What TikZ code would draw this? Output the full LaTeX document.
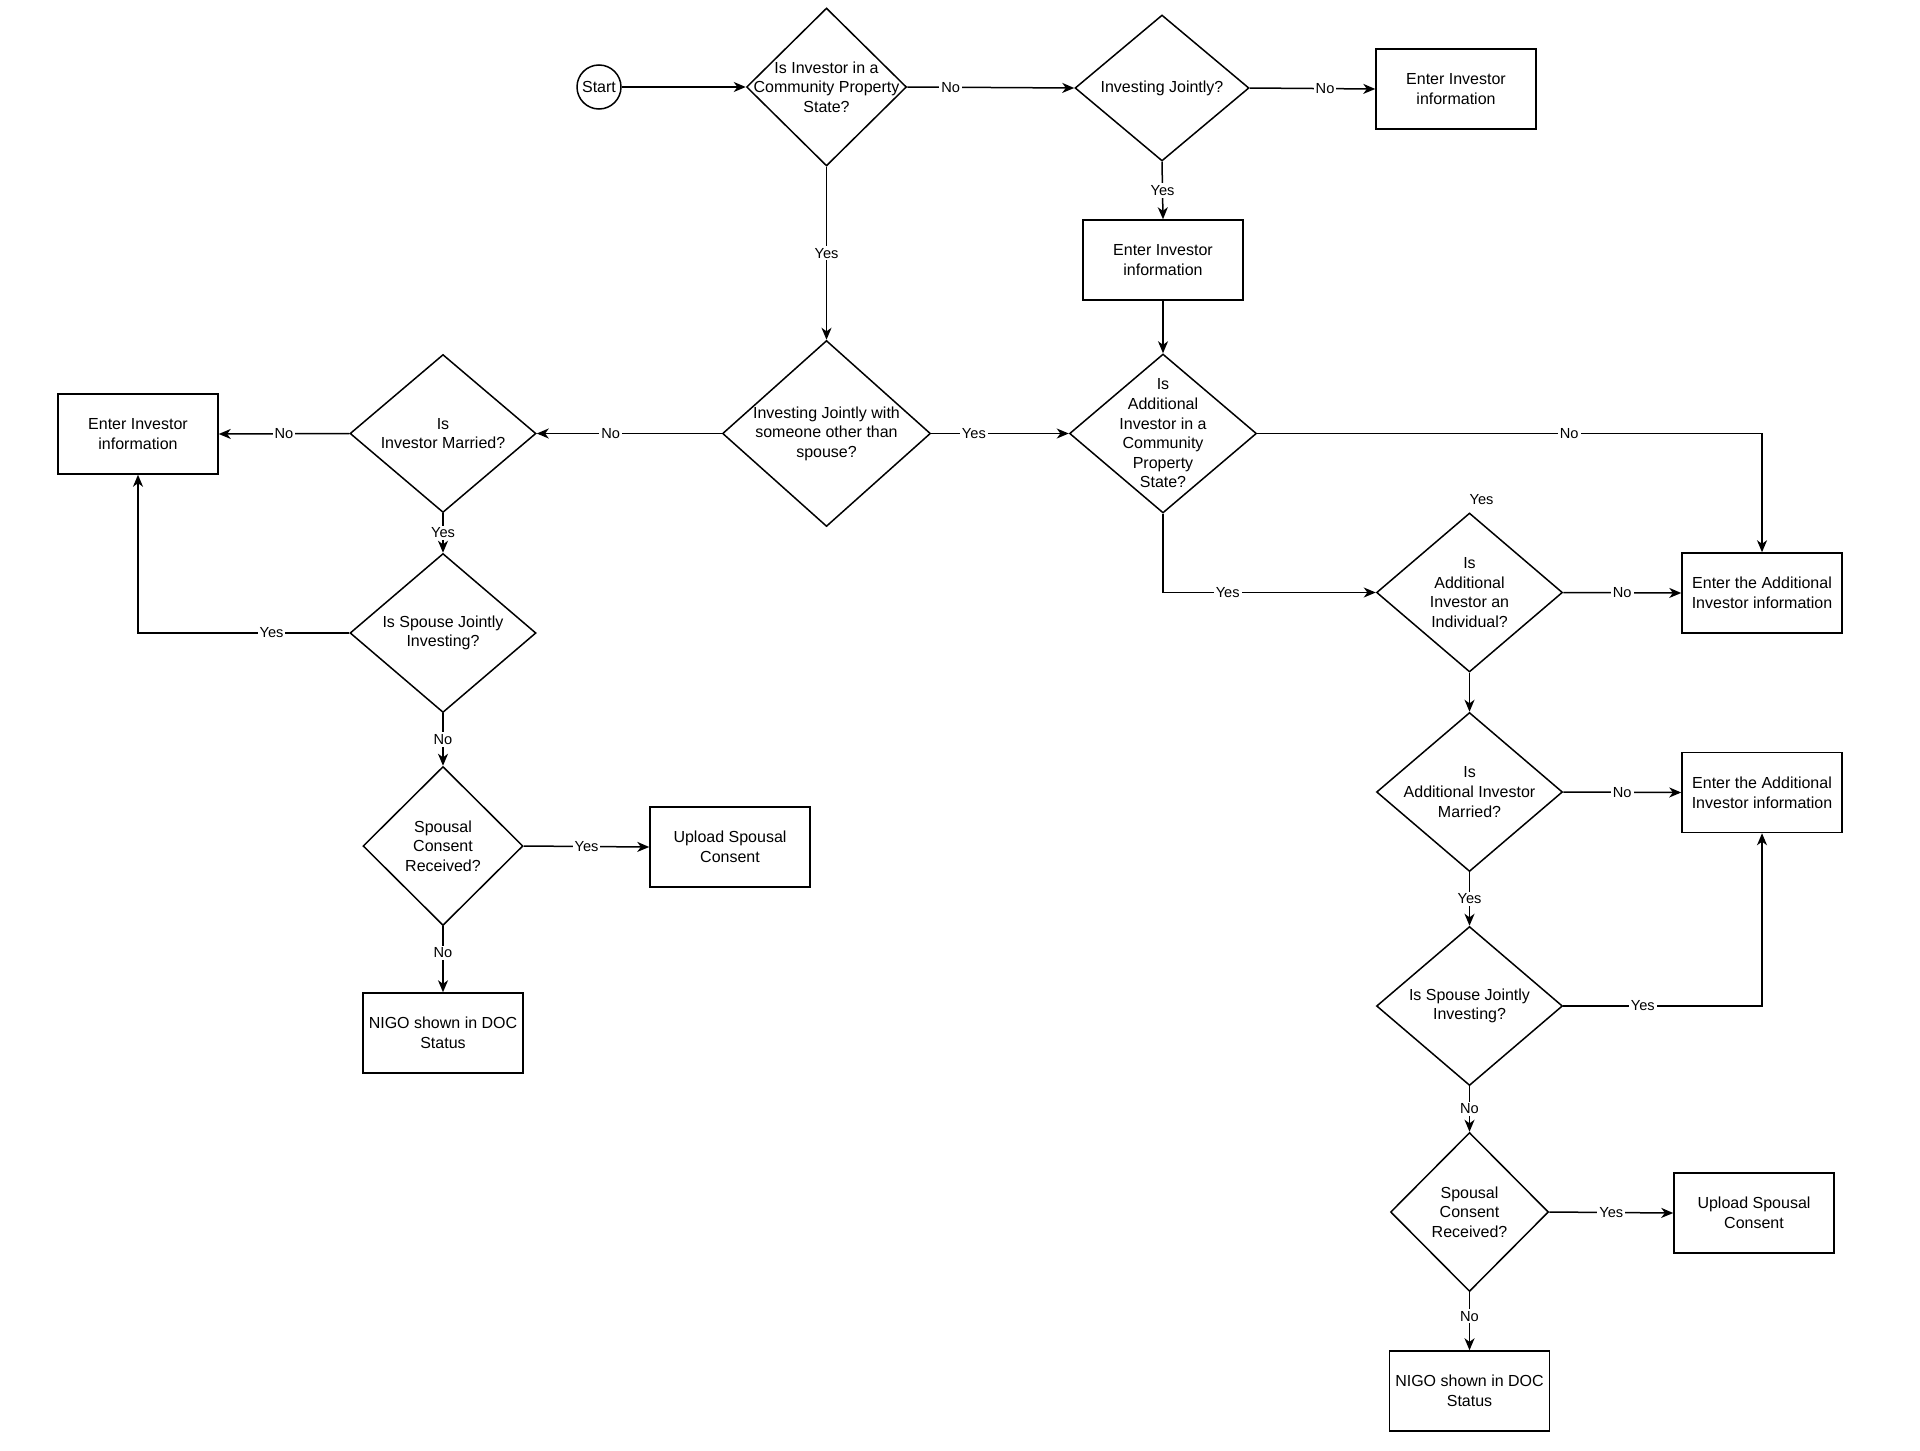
\documentclass[tikz,border=0pt]{standalone}
\usepackage{fontspec}
\setmainfont{Liberation Sans}
\usetikzlibrary{shapes.geometric,arrows.meta}

\tikzset{every picture/.style={line width=0.75pt}}
\tikzset{
  decision/.style 2 args={draw, shape=diamond, inner sep=0pt, minimum width=#1, minimum height=#2},
  process/.style={draw, rectangle, minimum width=80pt, minimum height=40pt, inner sep=0pt, align=center, font=\fontsize{8pt}{9.8pt}\selectfont},
  qtext/.style={align=center, inner sep=0pt, font=\fontsize{8pt}{9.8pt}\selectfont},
  lbl/.style={fill=white, inner sep=1pt, font=\fontsize{7.3pt}{8pt}\selectfont},
  flow/.style={-{Stealth[length=6pt,width=5pt,inset=1.8pt]}},
}

\begin{document}
\begin{tikzpicture}[x=0.5pt,y=0.5pt,yscale=-1,xscale=1]
\path (0,0) rectangle (1920,1450); %set diagram size 1920 x 1450

%Shape: Circle
\node[draw, circle, minimum size=22pt, inner sep=0pt, qtext] (start) at (599,87) {Start};

%Shape: Diamond
\node[decision={80pt}{79pt}, label={[qtext]center:Is Investor in a\\Community Property\\State?}] (q1) at (826.5,87) {};
\node[decision={87pt}{73pt}, label={[qtext]center:Investing Jointly?}] (q2) at (1162,88) {};
\node[decision={104pt}{93pt}, label={[qtext]center:Investing Jointly with\\someone other than\\spouse?}] (q3) at (826.5,433.5) {};
\node[decision={93.5pt}{79.5pt}, label={[qtext]center:Is\\Additional\\Investor in a\\Community\\Property\\State?}] (q4) at (1163,433.5) {};
\node[decision={93pt}{79pt}, label={[qtext]center:Is\\Investor Married?}] (q5) at (443,433.5) {};
\node[decision={93pt}{79.5pt}, label={[qtext]center:Is Spouse Jointly\\Investing?}] (q6) at (443,633) {};
\node[decision={80pt}{79.5pt}, label={[qtext]center:Spousal\\Consent\\Received?}] (q7) at (443,846) {};
\node[decision={93pt}{79.5pt}, label={[qtext]center:Is\\Additional\\Investor an\\Individual?}] (q8) at (1469.5,592.5) {};
\node[decision={93pt}{79.5pt}, label={[qtext]center:Is\\Additional Investor\\Married?}] (q9) at (1469.5,792) {};
\node[decision={93pt}{79.5pt}, label={[qtext]center:Is Spouse Jointly\\Investing?}] (q10) at (1469.5,1006) {};
\node[decision={79pt}{79.5pt}, label={[qtext]center:Spousal\\Consent\\Received?}] (q11) at (1469.5,1212) {};

%Shape: Rectangle
\node[process] (info1) at (1456,89) {Enter Investor\\information};
\node[process] (info2) at (1163,260) {Enter Investor\\information};
\node[process] (info3) at (138,434) {Enter Investor\\information};
\node[process] (addinfo1) at (1762,593) {Enter the Additional\\Investor information};
\node[process] (addinfo2) at (1762,792.5) {Enter the Additional\\Investor information};
\node[process] (upload1) at (730,847) {Upload Spousal\\Consent};
\node[process] (upload2) at (1754,1213) {Upload Spousal\\Consent};
\node[process] (nigo1) at (443,1033) {NIGO shown in DOC\\Status};
\node[process] (nigo2) at (1469.5,1391) {NIGO shown in DOC\\Status};

% Text Node
\node[lbl, fill=none] (q8yes) at (1481.5,499.5) {Yes};

%Straight Lines
\draw[flow] (start.east) -- (q1.west);
\draw[flow] (q1.east) -- node[lbl, pos=0.26] {No} (q2.west);
\draw[flow] (q2.east) -- node[lbl, pos=0.6] {No} (info1.west);
\draw[flow] (q2.south) -- node[lbl] {Yes} (info2.north);
\draw[flow] (q1.south) -- node[lbl] {Yes} (q3.north);
\draw[flow] (info2.south) -- (q4.north);
\draw[flow] (q3.east) -- node[lbl, pos=0.31] {Yes} (q4.west);
\draw[flow] (q3.west) -- node[lbl, pos=0.6] {No} (q5.east);
\draw[flow] (q5.west) -- node[lbl] {No} (info3.east);
\draw[flow] (q5.south) -- node[lbl] {Yes} (q6.north);
\draw[flow] (q6.west) -| node[lbl, pos=0.184] {Yes} (info3.south);
\draw[flow] (q6.south) -- node[lbl] {No} (q7.north);
\draw[flow] (q7.east) -- node[lbl] {Yes} (upload1.west);
\draw[flow] (q7.south) -- node[lbl, pos=0.4] {No} (nigo1.north);

\draw[flow] (q4.east) -| node[lbl, pos=0.309] {No} (addinfo1.north);
\draw[flow] (q4.south) |- node[lbl, pos=0.652] {Yes} (q8.west);
\draw[flow] (q8.east) -- node[lbl] {No} (addinfo1.west);
\draw[flow] (q8.south) -- (q9.north);
\draw[flow] (q9.east) -- node[lbl] {No} (addinfo2.west);
\draw[flow] (q9.south) -- node[lbl] {Yes} (q10.north);
\draw[flow] (q10.east) -| node[lbl, pos=0.2] {Yes} (addinfo2.south);
\draw[flow] (q10.south) -- node[lbl] {No} (q11.north);
\draw[flow] (q11.east) -- node[lbl] {Yes} (upload2.west);
\draw[flow] (q11.south) -- node[lbl, pos=0.41] {No} (nigo2.north);

\end{tikzpicture}
\end{document}
